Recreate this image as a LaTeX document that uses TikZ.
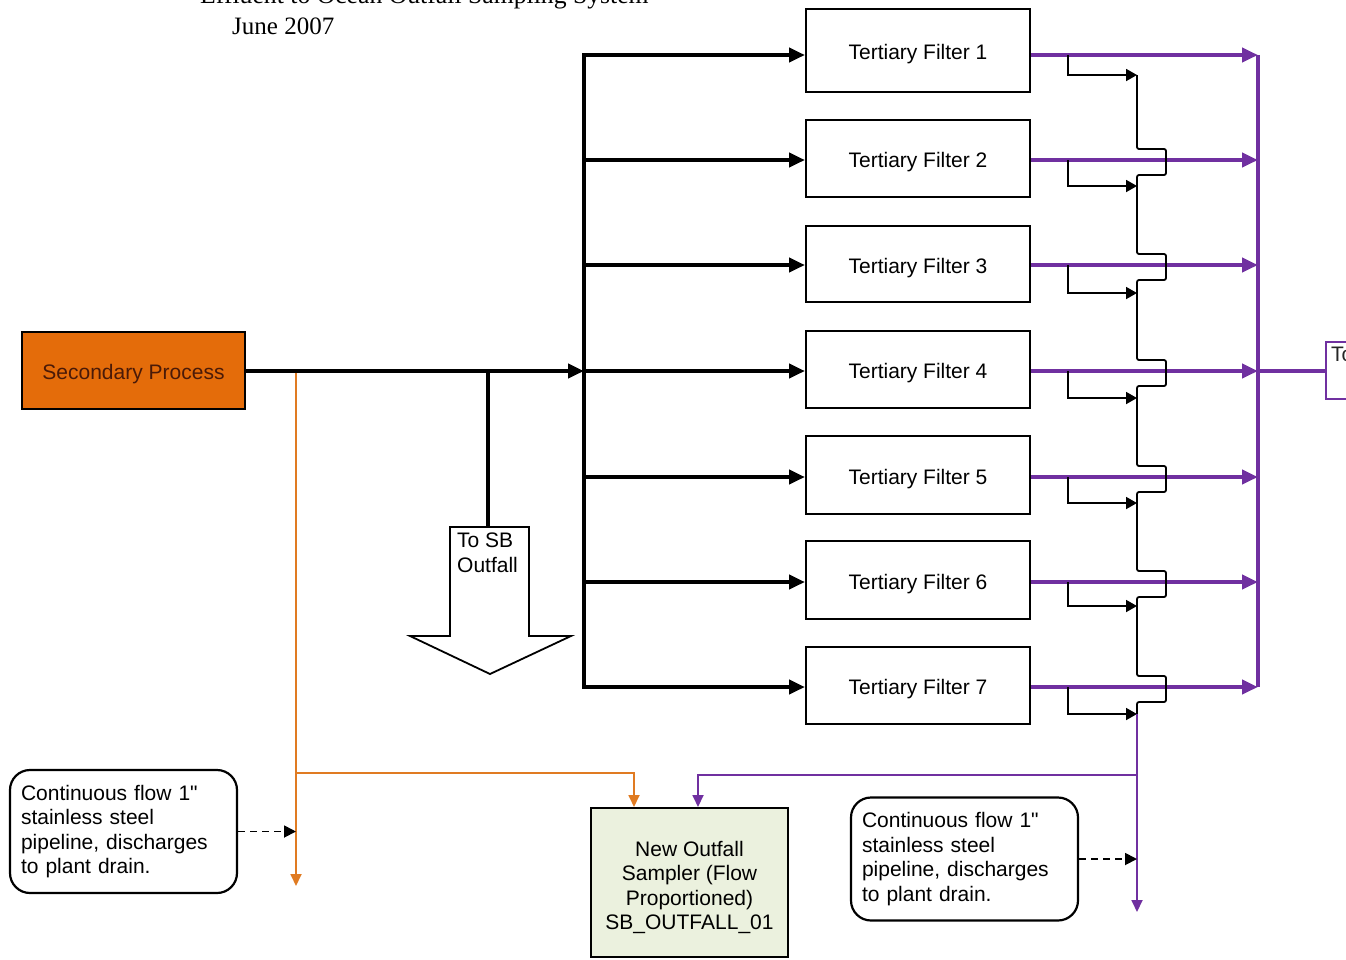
\documentclass[tikz,border=0pt]{standalone}
\usepackage{fontspec}
\setmainfont{Liberation Sans}
\newfontfamily\timesfont{Liberation Serif}
\usetikzlibrary{arrows.meta}
\definecolor{procorange}{HTML}{E46C0A}
\definecolor{proctext}{HTML}{4A1A08}
\definecolor{pipeorange}{HTML}{E07B22}
\definecolor{pipepurple}{HTML}{7030A0}
\definecolor{samplergreen}{HTML}{EBF1DE}
\begin{document}
\begin{tikzpicture}[x=1pt,y=-1pt,
  font=\fontsize{21}{24.5}\selectfont,
  box/.style={draw=black, line width=2pt, minimum width=224pt, inner sep=0pt, align=center},
  oneline/.style={text height=18pt, text depth=0pt},
  bus/.style={line width=4.2pt, black},
  busarrow/.style={bus, -{Triangle[length=16pt,width=14pt]}},
  purp/.style={line width=4.2pt, pipepurple},
  purparrow/.style={purp, -{Triangle[length=16pt,width=14pt]}},
  tap/.style={line width=1.8pt, black},
  taparrow/.style={tap, -{Triangle[length=11pt,width=12pt]}},
  thinpurp/.style={line width=1.8pt, pipepurple},
  thinpurparrow/.style={thinpurp, -{Triangle[length=12pt,width=11pt]}},
  orangepipe/.style={line width=1.8pt, pipeorange, -{Triangle[length=12pt,width=11pt]}},
  callout/.style={draw=black, line width=2.2pt, rounded corners=20pt, align=left,
    text width=205pt, inner xsep=11pt, minimum height=123pt},
  dasharrow/.style={line width=1.8pt, black, dash pattern=on 7pt off 5pt, -{Triangle[length=12pt,width=12pt]}}
]
\useasboundingbox (0,0) rectangle (1346,959);

% header
\node[font=\timesfont\fontsize{25.7}{30}\selectfont, anchor=base west, inner sep=0pt] (title) at (200,3) {Effluent to Ocean Outfall Sampling System};
\node[font=\timesfont\fontsize{25}{30}\selectfont, anchor=base west, inner sep=0pt] (date) at (232,34) {June 2007};

% filters
\node[box, oneline, minimum height=83pt] (f1) at (918,50.5) {Tertiary Filter 1};
\node[box, oneline, minimum height=77pt] (f2) at (918,158.5) {Tertiary Filter 2};
\node[box, oneline, minimum height=76pt] (f3) at (918,264) {Tertiary Filter 3};
\node[box, oneline, minimum height=77pt] (f4) at (918,369.5) {Tertiary Filter 4};
\node[box, oneline, minimum height=78pt] (f5) at (918,475) {Tertiary Filter 5};
\node[box, oneline, minimum height=78pt] (f6) at (918,580) {Tertiary Filter 6};
\node[box, oneline, minimum height=77pt] (f7) at (918,685.5) {Tertiary Filter 7};

% secondary process
\node[box, oneline, fill=procorange, text=proctext, minimum width=223pt, minimum height=77pt] (sec) at (133.5,370.5) {Secondary Process};

% sampler
\node[box, fill=samplergreen, minimum width=197pt, minimum height=149pt] (samp) at (689.5,882.5) {};
\node[align=center, inner sep=0pt] (samptext) at ([yshift=-5pt]samp.center)
  {New Outfall\\Sampler (Flow\\Proportioned)\\SB\_OUTFALL\_01};

% To box (right, cut off)
\node[draw=pipepurple, line width=1.8pt, minimum width=100pt, minimum height=57pt, anchor=west] (to) at (1325,370.5) {};
\node[anchor=north west, inner sep=0pt, text=black!85] (totext) at ([xshift=6pt,yshift=-6pt]to.north west) {To};

% callouts
\node[callout] (c1) at (123.5,831.5) {Continuous flow 1\textquotedbl\\stainless steel\\pipeline, discharges\\to plant drain.};
\node[callout] (c2) at (964.5,859) {Continuous flow 1\textquotedbl\\stainless steel\\pipeline, discharges\\to plant drain.};

% coordinates
\foreach \i/\y in {1/55,2/160,3/265,4/371,5/477,6/582,7/687}{
  \coordinate (b\i) at (584,\y);
  \coordinate (p\i) at (1258,\y);
}

% black feed bus
\draw[busarrow] (sec.east |- b4) -- (b4);
\draw[bus, line cap=rect] (b1) -- (b7);
\foreach \i in {1,...,7}{
  \draw[busarrow] (b\i) -- (f\i.west |- b\i);
}

% to SB outfall big arrow
\coordinate (j1) at (488,371);
\coordinate (sbtop) at (488,527);
\draw[bus] (j1) -- (sbtop);
\draw[line width=1.8pt, fill=white, line join=miter] (450,527) -- (529,527) -- (529,636) -- (571,636) -- (490,674) -- (410,636) -- (450,636) -- cycle;
\node[anchor=north west, align=left, inner sep=0pt] (sbtext) at (457,533) {To SB\\Outfall};

% purple effluent
\foreach \i in {1,...,7}{
  \draw[purparrow] (f\i.east |- p\i) -- (p\i);
}
\draw[purp] (p1) -- (p7);
\draw[purp] (p4) -- (p4 -| to.west);

% sample taps
\foreach \i/\y/\a in {1/55/75,2/160/186,3/265/293,4/371/398,5/477/503,6/582/606,7/687/714}{
  \coordinate (t\i) at (1068,\y);
  \coordinate (s\i) at (1137,\a);
  \draw[taparrow] (t\i) |- (s\i);
}
\draw[tap, rounded corners=2pt] (s1)
  -- (1137,149) -- (1166,149) -- (1166,175) -- (1137,175)
  -- (1137,254) -- (1166,254) -- (1166,280) -- (1137,280)
  -- (1137,360) -- (1166,360) -- (1166,386) -- (1137,386)
  -- (1137,466) -- (1166,466) -- (1166,492) -- (1137,492)
  -- (1137,571) -- (1166,571) -- (1166,597) -- (1137,597)
  -- (1137,676) -- (1166,676) -- (1166,702) -- (1137,702)
  -- (s7);
\coordinate (pdrain) at (1137,912);
\coordinate (r1) at (1137,775);
\draw[thinpurparrow] (s7) -- (pdrain);
\draw[thinpurparrow] (r1) -| ([xshift=8.5pt]samp.north);

% orange
\coordinate (o1) at (296,373);
\coordinate (o2) at (296,773);
\coordinate (o3) at (296,886);
\draw[orangepipe] (o1) -- (o3);
\draw[orangepipe] (o2) -| ([xshift=-55.5pt]samp.north);

% dashed callout arrows
\draw[dasharrow] (c1.east) -- (o1 |- c1.east);
\draw[dasharrow] (c2.east) -- (s7 |- c2.east);
\end{tikzpicture}
\end{document}
